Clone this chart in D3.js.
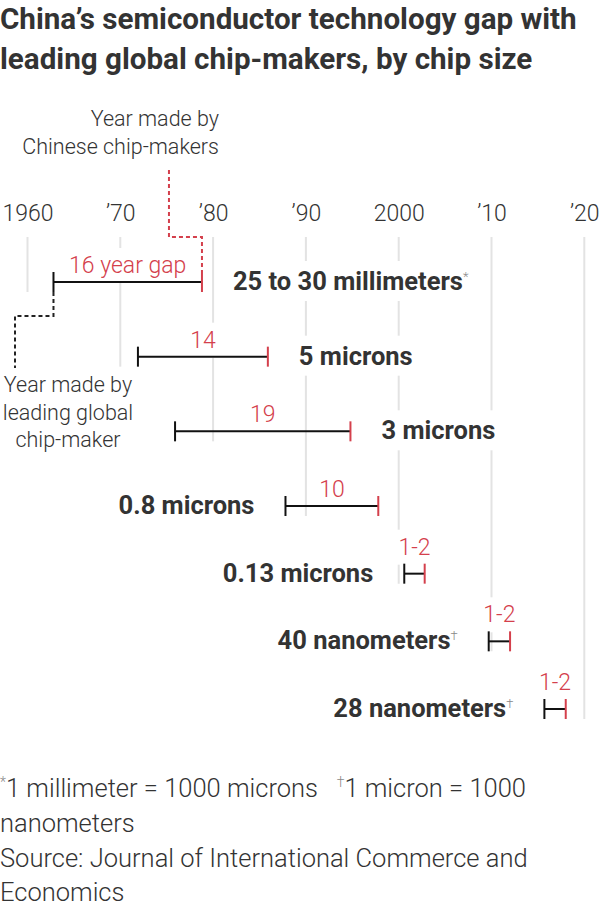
<!DOCTYPE html>
<html><head><meta charset="utf-8">
<script src="https://cdn.jsdelivr.net/npm/d3@7"></script>
<style>
body{margin:0;background:#fff}
svg{display:block}
.light{font-family:Roboto,"Noto Sans",sans-serif;font-weight:300}
.bold{font-family:Roboto,"Noto Sans",sans-serif;font-weight:700}
tspan{white-space:pre}
</style></head><body>
<svg id="chart" width="600" height="906"></svg>
<script>
// ---------- data ----------
const titleLines = ["China’s semiconductor technology gap with", "leading global chip-makers, by chip size"];
const tickYears = [1960, 1970, 1980, 1990, 2000, 2010, 2020];
const tickLabels = ["1960", "’70", "’80", "’90", "2000", "’10", "’20"];
const chipSizes = ["25 to 30 millimeters", "5 microns", "3 microns", "0.8 microns", "0.13 microns", "40 nanometers", "28 nanometers"];
const sizeNotes = ["*", "", "", "", "", "†", "†"];
const leaderYears = [1962.8, 1971.9, 1975.9, 1987.8, 2000.6, 2009.7, 2015.7];
const chinaYears  = [1978.8, 1985.9, 1994.8, 1997.8, 2002.8, 2012.0, 2018.0];
const gapLabels = ["16 year gap", "14", "19", "10", "1-2", "1-2", "1-2"];
const chinaNote = ["Year made by", "Chinese chip-makers"];
const leaderNote = ["Year made by", "leading global", "chip-maker"];
const footnote1 = [["*", true], ["1 millimeter = 1000 microns   ", false], ["†", true], ["1 micron = 1000", false]];
const footnoteRest = ["nanometers", "Source: Journal of International Commerce and", "Economics"];

// ---------- layout ----------
const RED = "#d4404c", INK = "#333", GRID = "#e3e3e3", BAR = "#111";
const labelsRightUntil = 3;
const svg = d3.select("#chart");
const x = d3.scaleLinear().domain([1960, 2020]).range([27.5, 584.3]);
const y = d3.scaleLinear().domain([0, 3, 6]).range([282, 506, 709]);
const rows = d3.range(chipSizes.length);

const gGrid = svg.append("g");
const gBg = svg.append("g");
const gMarks = svg.append("g");
const gText = svg.append("g");

function box(sel, px, py) {
  const b = sel.node().getBBox();
  gBg.append("rect").attr("x", b.x - px).attr("y", b.y - py)
    .attr("width", b.width + 2 * px).attr("height", b.height + 2 * py).attr("fill", "#fff");
}

// title
svg.append("g").selectAll("text").data(titleLines).join("text")
  .attr("class", "bold").attr("x", 0).attr("y", (d, i) => 29 + i * 40)
  .attr("font-size", 29.6).attr("fill", INK).text(d => d);

// axis labels
const axis = d3.axisTop(x).tickValues(tickYears).tickFormat((d, i) => tickLabels[i]).tickSize(0).tickPadding(0);
const gAxis = svg.append("g").attr("transform", "translate(0,221)").call(axis);
gAxis.select(".domain").remove();
gAxis.selectAll("text").attr("class", "light").attr("font-size", 23).attr("fill", INK).attr("font-family", null);

// grid lines
gGrid.selectAll("line").data(tickYears).join("line")
  .attr("x1", d => x(d)).attr("x2", d => x(d))
  .attr("y1", 237).attr("y2", (d, i) => y(Math.min(i, rows.length - 1)) + 10)
  .attr("stroke", GRID).attr("stroke-width", 2);

// bars
rows.forEach(i => {
  const x0 = x(leaderYears[i]), x1 = x(chinaYears[i]), yy = y(i);
  const g = gMarks.append("g");
  g.append("line").attr("x1", x0).attr("x2", x1).attr("y1", yy).attr("y2", yy).attr("stroke", BAR).attr("stroke-width", 2);
  g.append("line").attr("x1", x0).attr("x2", x0).attr("y1", yy - 10).attr("y2", yy + 10).attr("stroke", BAR).attr("stroke-width", 2);
  g.append("line").attr("x1", x1).attr("x2", x1).attr("y1", yy - 10).attr("y2", yy + 10).attr("stroke", RED).attr("stroke-width", 2);

  // gap label
  const gl = gText.append("text").attr("class", "light").attr("font-size", 23).attr("fill", RED)
    .attr("text-anchor", "middle").attr("x", (x0 + x1) / 2).text(gapLabels[i]);
  const w = gl.node().getComputedTextLength();
  gl.attr("y", (x1 - x0) > w + 8 ? yy - 9 : yy - 19);
  box(gl, 5, 4);

  // category label
  const right = i < labelsRightUntil;
  const cl = gText.append("text").attr("class", "bold").attr("font-size", 25.5).attr("fill", INK)
    .attr("x", right ? x1 + 31 : x0 - 31).attr("y", yy + 8)
    .attr("text-anchor", right ? "start" : "end");
  cl.append("tspan").text(chipSizes[i]);
  if (sizeNotes[i]) cl.append("tspan").attr("class", "light").attr("font-size", 13).attr("dy", -9).attr("fill", "#888").text(sizeNotes[i]);
  box(cl, 6, 5);
});

// annotations
const ann1 = gText.append("text").attr("class", "light").attr("font-size", 21.5).attr("fill", INK).attr("text-anchor", "end");
ann1.selectAll("tspan").data(chinaNote).join("tspan").attr("x", 219).attr("y", (d, i) => 126 + i * 28).text(d => d);
const ann2 = gText.append("text").attr("class", "light").attr("font-size", 21.5).attr("fill", INK).attr("text-anchor", "middle");
ann2.selectAll("tspan").data(leaderNote).join("tspan").attr("x", 68).attr("y", (d, i) => 392 + i * 27.5).text(d => d);
box(ann2, 6, 4);

const xc = x(chinaYears[0]), xl = x(leaderYears[0]);
gMarks.append("path").attr("d", `M${xc - 33},170V237H${xc}V${y(0) - 10}`)
  .attr("fill", "none").attr("stroke", RED).attr("stroke-width", 2).attr("stroke-dasharray", "4,3");
gMarks.append("path").attr("d", `M${xl},${y(0) + 10}V316H15V368`)
  .attr("fill", "none").attr("stroke", "#222").attr("stroke-width", 2).attr("stroke-dasharray", "4,3");

// footnotes
const f1 = svg.append("text").attr("class", "light").attr("font-size", 25.5).attr("fill", INK).attr("x", 0).attr("y", 797);
footnote1.forEach(([t, sup]) => {
  if (sup) f1.append("tspan").attr("font-size", 14).attr("fill", "#888").attr("dy", -10).text(t);
  else f1.append("tspan").attr("dy", 10).text(t);
});
f1.select("tspan").attr("dy", -10);
svg.append("g").selectAll("text").data(footnoteRest).join("text")
  .attr("class", "light").attr("font-size", 25.5).attr("fill", INK)
  .attr("x", 0).attr("y", (d, i) => 832 + i * 34.5).text(d => d);
</script>
</body></html>
